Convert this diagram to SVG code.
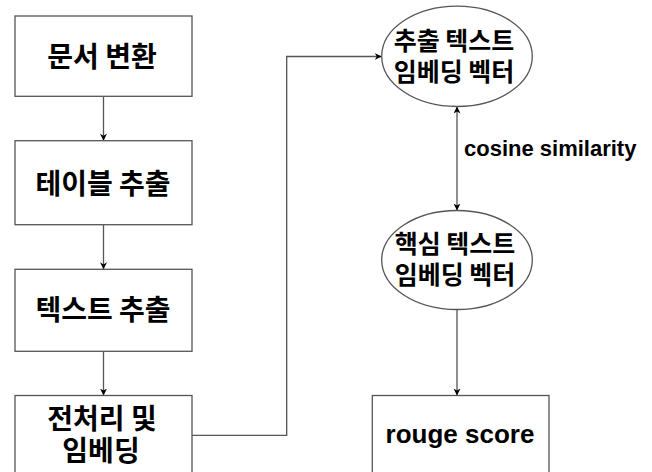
<svg xmlns="http://www.w3.org/2000/svg" width="652" height="472" viewBox="0 0 652 472">
<defs>
<marker id="arr" viewBox="0 0 10 10" refX="10" refY="5" markerWidth="7" markerHeight="7" markerUnits="userSpaceOnUse" orient="auto-start-reverse">
<path d="M0,0 L10,5 L0,10 L3,5 Z" fill="#000"/>
</marker>
<style>
.box{fill:#fff;stroke:#555;stroke-width:1.3}
.kt{font-family:"Noto Sans CJK KR","Noto Sans",sans-serif;font-weight:bold;font-size:28px;fill:#000;text-anchor:middle}
.ke{font-family:"Noto Sans CJK KR","Noto Sans",sans-serif;font-weight:bold;font-size:25px;fill:#000;text-anchor:middle}
.lt{font-family:"Liberation Sans",Arial,sans-serif;font-weight:bold;fill:#000}
.edge{fill:none;stroke:#555;stroke-width:1.3}
</style>
</defs>
<rect width="652" height="472" fill="#fff"/>
<g id="connectors">
<path class="edge" d="M103.5,96.3 L103.5,140.7" marker-end="url(#arr)"/>
<path class="edge" d="M103.5,224.7 L103.5,269.3" marker-end="url(#arr)"/>
<path class="edge" d="M103.5,351.3 L103.5,395.5" marker-end="url(#arr)"/>
<path class="edge" d="M192,435.3 L286.7,435.3 L286.7,56.5 L381.7,56.5" marker-end="url(#arr)"/>
<path class="edge" d="M457,106.5 L457,210.5" marker-start="url(#arr)" marker-end="url(#arr)"/>
<path class="edge" d="M457,309.5 L457,395.5" marker-end="url(#arr)"/>
<text class="lt" x="464" y="156" font-size="22">cosine similarity</text>
</g>
<g id="n1"><rect class="box" x="15" y="16" width="177" height="80.3"/><text class="kt" x="102" y="66.5">문서 변환</text></g>
<g id="n2"><rect class="box" x="15" y="140.7" width="177" height="84"/><text class="kt" x="103" y="193.5">테이블 추출</text></g>
<g id="n3"><rect class="box" x="15" y="269.3" width="177" height="82"/><text class="kt" x="103" y="319.5">텍스트 추출</text></g>
<g id="n4"><rect class="box" x="15" y="395.5" width="177" height="82"/><text class="kt" x="102" y="428.5">전처리 및</text><text class="kt" x="101" y="460.5">임베딩</text></g>
<g id="e1"><ellipse class="box" cx="457" cy="56.3" rx="75.3" ry="50.2"/><text class="ke" x="454" y="50">추출 텍스트</text><text class="ke" x="454" y="81">임베딩 벡터</text></g>
<g id="e2"><ellipse class="box" cx="457" cy="260" rx="75.3" ry="49.5"/><text class="ke" x="455" y="253">핵심 텍스트</text><text class="ke" x="455" y="284">임베딩 벡터</text></g>
<g id="n5"><rect class="box" x="372.3" y="395.5" width="176.7" height="82"/><text class="lt" x="460" y="443" font-size="26" text-anchor="middle">rouge score</text></g>
</svg>
